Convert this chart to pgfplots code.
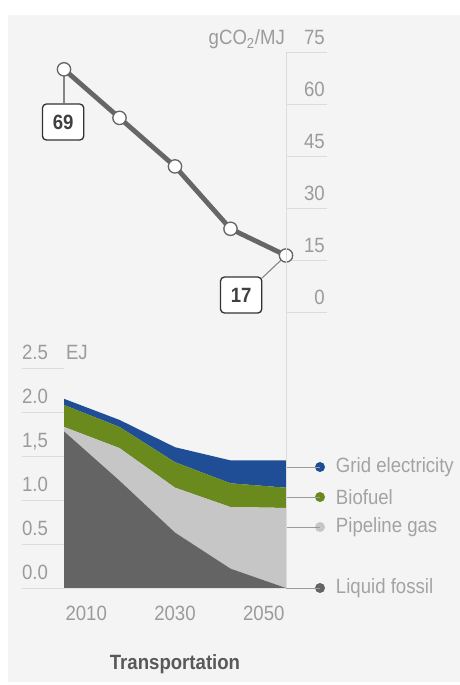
\documentclass[border=0pt]{standalone}
\usepackage{pgfplots}
\pgfplotsset{compat=1.18}
\usepackage{fontspec}
\setmainfont{Liberation Sans}[FakeStretch=0.9]

\definecolor{bg}{HTML}{F4F4F4}
\definecolor{gridc}{HTML}{DCDCDC}
\definecolor{tickc}{HTML}{9B9B9B}
\definecolor{legc}{HTML}{A3A3A3}
\definecolor{linec}{HTML}{666666}
\definecolor{fossil}{HTML}{646464}
\definecolor{gas}{HTML}{C6C6C6}
\definecolor{bio}{HTML}{6B8A1E}
\definecolor{elec}{HTML}{1F4E96}

\newcommand{\tf}{\fontsize{15.5}{17}\selectfont}
\tikzset{
  ylab/.style={anchor=base west, inner sep=0, text=tickc, font=\tf, yshift=6.5pt},
  leg/.style={anchor=west, inner sep=0, text=legc, font=\tf},
  gl/.style={gridc, line width=0.6pt},
  cn/.style={tickc, line width=0.7pt},
  vbox/.style={draw=black!80, line width=1pt, rounded corners=3pt, fill=white,
    minimum width=31pt, minimum height=27pt, font=\bfseries\tf, text=black!75}
}

\begin{document}
\begin{tikzpicture}
\path[use as bounding box] (0,0) rectangle (345pt,-513.75pt);
\fill[bg] (6pt,-11.25pt) rectangle (345pt,-511.5pt);

% carbon intensity, top
\begin{axis}[
  at={(48pt,-234pt)}, anchor=south west,
  scale only axis, width=166.5pt, height=195pt,
  xmin=2005, xmax=2055, ymin=0, ymax=75,
  axis line style={draw=none}, xtick=\empty, ytick=\empty,
  clip=false]
  \pgfplotsinvokeforeach{0,15,30,45,60,75}{
    \draw[gl] (axis cs:2055,#1) -- (axis cs:2064.2,#1);
    \node[anchor=base east, inner sep=0, text=tickc, font=\tf, yshift=5.5pt] at (axis cs:2063.8,#1) {#1};
  }
  \node[anchor=base east, inner sep=0, text=tickc, font=\tf, yshift=5.5pt] at (axis cs:2054.8,75) {gCO\textsubscript{2}/MJ};
  \draw[linec!80, line width=0.8pt] (axis cs:2005,70) -- (axis cs:2005,60.3);
  \draw[linec!80, line width=0.8pt] (axis cs:2055,16.3) -- (axis cs:2049.6,9.8);
  \addplot[color=linec, line width=3.6pt, mark=*, mark size=5pt,
    mark options={fill=white, draw=linec, line width=1pt}]
    coordinates {(2005,70) (2017.5,56) (2030,42) (2042.5,24) (2055,16.3)};
  \node[vbox] at (axis cs:2004.8,54.8) {69};
  \node[vbox] at (axis cs:2044.9,4.9) {17};
\end{axis}

% energy use, bottom
\begin{axis}[
  at={(48pt,-441pt)}, anchor=south west,
  scale only axis, width=166.5pt, height=165pt,
  xmin=2005, xmax=2055, ymin=0, ymax=2.5,
  axis line style={draw=none}, ytick=\empty,
  xtick={2010,2030,2050}, xticklabels={2010,2030,2050},
  major tick length=0pt,
  xticklabel style={font=\tf, text=tickc, yshift=-10pt},
  xlabel={Transportation},
  xlabel style={at={(axis description cs:0.5,0)}, anchor=base, yshift=-61pt,
    font=\bfseries\tf, text=black!65},
  stack plots=y,
  clip=false]
  \draw[gl] (axis cs:2055,0) -- (axis cs:2055,6.09);
  \draw[gl] (axis cs:1995.5,0) -- (axis cs:2005,0);
  \draw[gl] (axis cs:1995.5,0.5) -- (axis cs:2005,0.5);
  \draw[gl] (axis cs:1995.5,1) -- (axis cs:2005,1);
  \draw[gl] (axis cs:1995.5,1.5) -- (axis cs:2005,1.5);
  \draw[gl] (axis cs:1995.5,2) -- (axis cs:2005,2);
  \draw[gl] (axis cs:1995.5,2.5) -- (axis cs:2005,2.5);
  \node[ylab] at (axis cs:1995.5,0) {0.0};
  \node[ylab] at (axis cs:1995.5,0.5) {0.5};
  \node[ylab] at (axis cs:1995.5,1) {1.0};
  \node[ylab] at (axis cs:1995.5,1.5) {1,5};
  \node[ylab] at (axis cs:1995.5,2) {2.0};
  \node[ylab] at (axis cs:1995.5,2.5) {2.5};
  \node[ylab] at (axis cs:2005.4,2.5) {EJ};

  \addplot[fill=fossil, draw=none] coordinates
    {(2005,1.78) (2017.5,1.22) (2030,0.63) (2042.5,0.22) (2055,0)} \closedcycle;
  \addplot[fill=gas, draw=none] coordinates
    {(2005,0.05) (2017.5,0.37) (2030,0.51) (2042.5,0.70) (2055,0.91)} \closedcycle;
  \addplot[fill=bio, draw=none] coordinates
    {(2005,0.25) (2017.5,0.24) (2030,0.29) (2042.5,0.27) (2055,0.23)} \closedcycle;
  \addplot[fill=elec, draw=none] coordinates
    {(2005,0.07) (2017.5,0.08) (2030,0.17) (2042.5,0.26) (2055,0.31)} \closedcycle;

  \draw[cn] (axis cs:2055,1.375) -- (axis cs:2062.66,1.375);
  \draw[cn] (axis cs:2055,1.034) -- (axis cs:2062.66,1.034);
  \draw[cn] (axis cs:2055,0.693) -- (axis cs:2062.66,0.693);
  \draw[cn] (axis cs:2055,0) -- (axis cs:2062.66,0);
  \fill[elec] (axis cs:2062.66,1.375) circle[radius=3.75pt];
  \fill[bio] (axis cs:2062.66,1.034) circle[radius=3.75pt];
  \fill[gas] (axis cs:2062.66,0.693) circle[radius=3.75pt];
  \fill[fossil] (axis cs:2062.66,0) circle[radius=3.75pt];
  \node[leg] at (axis cs:2066.2,1.375) {Grid electricity};
  \node[leg] at (axis cs:2066.2,1.034) {Biofuel};
  \node[leg] at (axis cs:2066.2,0.693) {Pipeline gas};
  \node[leg] at (axis cs:2066.2,0) {Liquid fossil};
\end{axis}
\end{tikzpicture}
\end{document}
